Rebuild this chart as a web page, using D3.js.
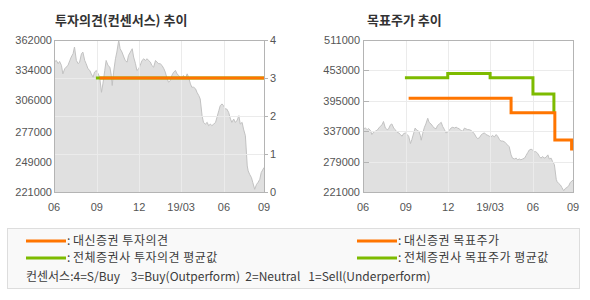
<html>
<head>
<style>
  body { margin: 0; background: #fff; }
  .tick-label { font-family: "Liberation Sans", Arial, sans-serif; font-size: 11px; fill: #555; }
  .title { font-family: "Noto Sans CJK KR", sans-serif; font-size: 13px; font-weight: bold; fill: #333; }
  .legend-text { font-family: "Noto Sans CJK KR", sans-serif; font-size: 12px; fill: #3c3c3c; }
</style>
</head>
<body>
<svg id="container" width="590" height="300"></svg>
<script src="https://cdn.jsdelivr.net/npm/d3@7/dist/d3.min.js"></script>
<script>
// closing price (date, won)
const priceSeries = [
  ["2018-06-01",341500],["2018-06-06",343000],["2018-06-10",340000],["2018-06-13",342100],
  ["2018-06-17",338400],["2018-06-20",330600],["2018-06-24",335300],["2018-06-27",336800],
  ["2018-07-01",338400],["2018-07-05",343000],["2018-07-08",346200],["2018-07-12",349300],
  ["2018-07-15",355500],["2018-07-19",343000],["2018-07-23",340000],["2018-07-26",341500],
  ["2018-07-30",349300],["2018-08-02",350800],["2018-08-06",343000],["2018-08-09",340000],
  ["2018-08-13",335300],["2018-08-17",333700],["2018-08-20",330600],["2018-08-24",327500],
  ["2018-08-27",332200],["2018-08-31",333700],["2018-09-04",330600],["2018-09-07",327500],
  ["2018-09-11",313500],["2018-09-14",321300],["2018-09-18",333700],["2018-09-21",343000],
  ["2018-09-25",338400],["2018-09-29",336800],["2018-10-02",329100],["2018-10-04",319800],
  ["2018-10-07",332200],["2018-10-11",344600],["2018-10-14",350800],["2018-10-18",361700],
  ["2018-10-21",353900],["2018-10-25",350800],["2018-10-29",346200],["2018-11-01",343000],
  ["2018-11-05",341500],["2018-11-08",347700],["2018-11-12",350800],["2018-11-16",353900],
  ["2018-11-19",346200],["2018-11-23",340000],["2018-11-26",333700],["2018-11-30",335300],
  ["2018-12-03",338400],["2018-12-07",343000],["2018-12-11",344600],["2018-12-14",343000],
  ["2018-12-18",344600],["2018-12-21",343000],["2018-12-25",341500],["2018-12-28",338400],
  ["2019-01-01",336800],["2019-01-05",343000],["2019-01-08",341500],["2019-01-12",340000],
  ["2019-01-15",340000],["2019-01-19",338400],["2019-01-23",335300],["2019-01-26",332200],
  ["2019-01-30",326000],["2019-02-02",322900],["2019-02-06",324400],["2019-02-09",329100],
  ["2019-02-13",332200],["2019-02-17",333700],["2019-02-20",330600],["2019-02-24",329100],
  ["2019-02-27",327500],["2019-03-03",326000],["2019-03-06",329100],["2019-03-10",326000],
  ["2019-03-14",330600],["2019-03-17",327500],["2019-03-21",321300],["2019-03-24",318200],
  ["2019-03-28",318200],["2019-04-01",316700],["2019-04-04",313500],["2019-04-08",310400],
  ["2019-04-11",307300],["2019-04-15",291800],["2019-04-18",285600],["2019-04-22",284000],
  ["2019-04-26",285600],["2019-04-29",282500],["2019-05-03",284000],["2019-05-06",282500],
  ["2019-05-10",284000],["2019-05-14",285600],["2019-05-17",290300],["2019-05-21",296500],
  ["2019-05-24",301100],["2019-05-28",302700],["2019-05-31",301100],["2019-06-04",298000],
  ["2019-06-07",298000],["2019-06-11",294900],["2019-06-15",288700],["2019-06-18",285600],
  ["2019-06-22",288700],["2019-06-25",285600],["2019-06-29",287100],["2019-07-03",291800],
  ["2019-07-06",284000],["2019-07-10",285600],["2019-07-13",279400],["2019-07-17",273200],
  ["2019-07-21",245200],["2019-07-23",240600],["2019-07-26",237500],["2019-07-30",234400],
  ["2019-08-02",229700],["2019-08-06",223500],["2019-08-10",228100],["2019-08-13",229700],
  ["2019-08-17",232800],["2019-08-20",239000],["2019-08-26",243700]
];

// investment opinion (4=S/Buy ... 1=Sell)
const daishinOpinion = [["2018-09-07",3],["2019-08-26",3]];
const consensusOpinion = [["2018-08-30",3],["2019-08-26",3]];

// target price (won)
const daishinTarget = [["2018-09-07",400000],["2019-04-15",372000],["2019-07-18",320000],["2019-08-23",300000]];
const consensusTarget = [["2018-08-30",439000],["2018-11-30",447000],["2019-03-01",439000],["2019-06-01",408000],["2019-07-16",373000]];

// axes
const xTickDates = ["2018-06-01","2018-09-01","2018-12-01","2019-03-01","2019-06-01","2019-08-26"];
const xTickLabels = ["06","09","12","19/03","06","09"];
const opinionPriceTicks = [221000,249000,277000,306000,334000,362000];
const opinionTicks = [0,1,2,3,4];
const targetTicks = [221000,279000,337000,395000,453000,511000];

const titles = ["투자의견(컨센서스) 추이", "목표주가 추이"];
const legendLabels = ["대신증권 투자의견", "전체증권사 투자의견 평균값", "대신증권 목표주가", "전체증권사 목표주가 평균값"];
const consensusNote = "컨센서스:4=S/Buy    3=Buy(Outperform)  2=Neutral   1=Sell(Underperform)";

const ORANGE = "#ff7500", GREEN = "#7dbb00";
const parse = d3.timeParse("%Y-%m-%d");
const price = priceSeries.map(d => ({date: parse(d[0]), value: d[1]}));
const toPts = arr => arr.map(d => ({date: parse(d[0]), value: d[1]}));

const svg = d3.select("#container");
const plotW = 210, plotH = 152, plotTop = 40;

function panel(left, yPrice) {
  let g = svg.append("g").attr("transform", `translate(${left},${plotTop})`);
  let x = d3.scaleTime()
      .domain([parse(xTickDates[0]), parse(xTickDates[xTickDates.length - 1])])
      .range([0, plotW]);

  // price area
  g.append("path")
    .datum(price)
    .attr("d", d3.area().x(d => x(d.date)).y0(plotH).y1(d => yPrice(d.value)))
    .attr("fill", "#e0e0e0");
  g.append("path")
    .datum(price)
    .attr("d", d3.line().x(d => x(d.date)).y(d => yPrice(d.value)))
    .attr("fill", "none")
    .attr("stroke", "#c2c2c2")
    .attr("stroke-width", 1);

  // vertical grid
  g.selectAll(".vgrid")
    .data(xTickDates)
    .enter()
    .append("line")
    .attr("x1", d => Math.round(x(parse(d))) + 0.5)
    .attr("x2", d => Math.round(x(parse(d))) + 0.5)
    .attr("y1", 0).attr("y2", plotH)
    .attr("stroke", "#ebebeb");

  // x labels
  g.selectAll(".xlabel")
    .data(xTickDates)
    .enter()
    .append("text")
    .attr("class", "tick-label")
    .attr("x", d => x(parse(d)))
    .attr("y", plotH + 19)
    .attr("text-anchor", "middle")
    .text((d, i) => xTickLabels[i]);

  return {g, x};
}

function frame(g) {
  g.append("rect")
    .attr("x", 0.5).attr("y", 0.5)
    .attr("width", plotW).attr("height", plotH)
    .attr("fill", "none")
    .attr("stroke", "#b4b4b4");
}

function stepLine(g, x, y, data, color) {
  g.append("path")
    .datum(toPts(data))
    .attr("d", d3.line().curve(d3.curveStepAfter).x(d => x(d.date)).y(d => y(d.value)))
    .attr("fill", "none")
    .attr("stroke", color)
    .attr("stroke-width", 3);
}

// ---- left: opinion chart
let yPriceL = d3.scaleLinear().domain([221000, 362000]).range([plotH, 0]);
let yOpinion = d3.scaleLinear().domain([0, 4]).range([plotH, 0]);
let L = panel(54, yPriceL);

L.g.selectAll(".hgrid")
  .data(opinionTicks)
  .enter()
  .append("line")
  .attr("x1", 0).attr("x2", plotW)
  .attr("y1", d => Math.round(yOpinion(d)) + 0.5)
  .attr("y2", d => Math.round(yOpinion(d)) + 0.5)
  .attr("stroke", "#ebebeb");
frame(L.g);

L.g.selectAll(".ylabel")
  .data(opinionPriceTicks)
  .enter()
  .append("text")
  .attr("class", "tick-label")
  .attr("x", -2)
  .attr("y", d => yPriceL(d) + 4)
  .attr("text-anchor", "end")
  .text(d => d);

L.g.selectAll(".rtick")
  .data(opinionTicks)
  .enter()
  .append("line")
  .attr("x1", plotW).attr("x2", plotW + 4)
  .attr("y1", d => Math.round(yOpinion(d)) + 0.5)
  .attr("y2", d => Math.round(yOpinion(d)) + 0.5)
  .attr("stroke", "#b4b4b4");
L.g.selectAll(".rlabel")
  .data(opinionTicks)
  .enter()
  .append("text")
  .attr("class", "tick-label")
  .attr("x", plotW + 6)
  .attr("y", d => yOpinion(d) + 4)
  .text(d => d);

stepLine(L.g, L.x, yOpinion, consensusOpinion, GREEN);
stepLine(L.g, L.x, yOpinion, daishinOpinion, ORANGE);

// ---- right: target price chart
let yPriceR = d3.scaleLinear().domain([221000, 511000]).range([plotH, 0]);
let R = panel(363, yPriceR);

R.g.selectAll(".hgrid")
  .data(targetTicks)
  .enter()
  .append("line")
  .attr("x1", 0).attr("x2", plotW)
  .attr("y1", d => Math.round(yPriceR(d)) + 0.5)
  .attr("y2", d => Math.round(yPriceR(d)) + 0.5)
  .attr("stroke", "#ebebeb");
frame(R.g);

R.g.selectAll(".ltick")
  .data(targetTicks)
  .enter()
  .append("line")
  .attr("x1", 0).attr("x2", 6)
  .attr("y1", d => Math.round(yPriceR(d)) + 0.5)
  .attr("y2", d => Math.round(yPriceR(d)) + 0.5)
  .attr("stroke", "#b4b4b4");
R.g.selectAll(".ylabel")
  .data(targetTicks)
  .enter()
  .append("text")
  .attr("class", "tick-label")
  .attr("x", -3)
  .attr("y", d => yPriceR(d) + 4)
  .attr("text-anchor", "end")
  .text(d => d);

stepLine(R.g, R.x, yPriceR, consensusTarget, GREEN);
stepLine(R.g, R.x, yPriceR, daishinTarget, ORANGE);

// titles
svg.selectAll(".title")
  .data(titles)
  .enter()
  .append("text")
  .attr("class", "title")
  .attr("x", (d, i) => i == 0 ? 55 : 367)
  .attr("y", 25)
  .text(d => d);

// legend box
svg.append("rect")
  .attr("x", 7.5).attr("y", 228.5)
  .attr("width", 572).attr("height", 60)
  .attr("fill", "#f9f9f9")
  .attr("stroke", "#dddddd");

let legendG = svg.selectAll(".legend")
  .data(legendLabels)
  .enter()
  .append("g")
  .attr("class", "legend")
  .attr("transform", (d, i) => `translate(${i < 2 ? 26 : 357},${i % 2 == 0 ? 241 : 258})`);

legendG.append("line")
  .attr("x1", 0).attr("x2", 40)
  .attr("stroke", (d, i) => i % 2 == 0 ? ORANGE : GREEN)
  .attr("stroke-width", 3);
legendG.append("text")
  .attr("class", "legend-text")
  .attr("x", 41)
  .attr("y", 4)
  .text(":");
legendG.append("text")
  .attr("class", "legend-text")
  .attr("x", 47)
  .attr("y", 4)
  .style("letter-spacing", "0.5px")
  .text(d => d);

svg.append("text")
  .attr("class", "legend-text")
  .attr("xml:space", "preserve")
  .attr("x", 26)
  .attr("y", 281)
  .text(consensusNote);
</script>
</body>
</html>
